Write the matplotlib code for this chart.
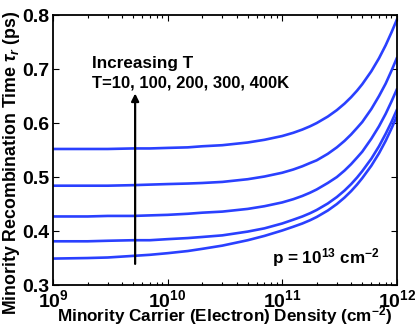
import matplotlib
matplotlib.use('Agg')
import matplotlib.pyplot as plt

plt.rcParams['font.family'] = ['Liberation Sans', 'DejaVu Sans']
plt.rcParams['font.weight'] = 'bold'
plt.rcParams['mathtext.fontset'] = 'custom'
plt.rcParams['mathtext.rm'] = 'Liberation Sans:bold'
plt.rcParams['mathtext.bf'] = 'Liberation Sans:bold'
plt.rcParams['mathtext.it'] = 'Liberation Sans:italic'

# electron density (cm^-2)
density = [1e9, 2e9, 3e9, 5e9, 7e9, 1e10, 1.5e10, 2e10, 3e10, 5e10, 7e10,
           1e11, 1.25e11, 1.5e11, 1.75e11, 2e11, 2.5e11, 3e11, 3.5e11, 4e11,
           4.5e11, 5e11, 6e11, 7e11, 8e11, 9e11, 1e12]

# recombination time (ps), one list per temperature
tau_10K = [0.552, 0.552, 0.552, 0.553, 0.553, 0.554, 0.555, 0.557, 0.559, 0.564,
           0.569, 0.576, 0.582, 0.588, 0.594, 0.600, 0.612, 0.624, 0.636, 0.648,
           0.660, 0.672, 0.696, 0.720, 0.744, 0.768, 0.791]
tau_100K = [0.484, 0.484, 0.484, 0.485, 0.486, 0.487, 0.488, 0.489, 0.491, 0.496,
            0.501, 0.508, 0.514, 0.520, 0.526, 0.531, 0.543, 0.555, 0.567, 0.579,
            0.591, 0.602, 0.626, 0.650, 0.673, 0.697, 0.720]
tau_200K = [0.427, 0.427, 0.428, 0.428, 0.429, 0.430, 0.432, 0.434, 0.436, 0.441,
            0.446, 0.453, 0.459, 0.465, 0.471, 0.477, 0.489, 0.500, 0.512, 0.524,
            0.536, 0.547, 0.571, 0.594, 0.617, 0.640, 0.662]
tau_300K = [0.381, 0.381, 0.382, 0.383, 0.383, 0.385, 0.387, 0.389, 0.392, 0.399,
            0.405, 0.414, 0.421, 0.427, 0.433, 0.439, 0.451, 0.463, 0.475, 0.487,
            0.499, 0.511, 0.534, 0.557, 0.580, 0.602, 0.624]
tau_400K = [0.349, 0.350, 0.351, 0.354, 0.356, 0.359, 0.363, 0.367, 0.373, 0.383,
            0.391, 0.401, 0.408, 0.414, 0.420, 0.426, 0.438, 0.450, 0.462, 0.474,
            0.486, 0.498, 0.521, 0.544, 0.567, 0.590, 0.612]

curves = [tau_10K, tau_100K, tau_200K, tau_300K, tau_400K]

xticks = [1e9, 1e10, 1e11, 1e12]
xticklabels = [r'$10^{9}$', r'$10^{10}$', r'$10^{11}$', r'$10^{12}$']
yticks = [0.3, 0.4, 0.5, 0.6, 0.7, 0.8]

fig = plt.figure(figsize=(4.15, 3.28), dpi=100)
ax = fig.add_axes([0.128, 0.131, 0.828, 0.823])

for tau in curves:
    ax.plot(density, tau, color='#2a40ff', lw=1.9)

ax.set_xscale('log')
ax.set_xlim(1e9, 1e12)
ax.set_ylim(0.3, 0.8)
ax.set_xticks(xticks)
ax.set_xticklabels(xticklabels)
ax.set_yticks(yticks)
ax.set_yticklabels(['%.1f' % v for v in yticks])

ax.tick_params(which='both', direction='in', top=True, right=True,
               labelsize=14, width=0.8)
ax.tick_params(which='major', length=4, pad=3)
ax.tick_params(which='minor', length=2)
for s in ax.spines.values():
    s.set_linewidth(1.3)

ax.set_xlabel(r'Minority Carrier (Electron) Density (cm$^{-2}$)', fontsize=12.3,
              fontweight='bold', labelpad=-5)
ax.set_ylabel(r'Minority Recombination Time $\tau_r$ (ps)', fontsize=12.8,
              fontweight='bold')
ax.yaxis.set_label_coords(-0.09, 0.455)

ax.annotate('', xy=(5.2e9, 0.66), xytext=(5.2e9, 0.334),
            arrowprops=dict(arrowstyle='-|>', color='black', lw=1.6,
                            mutation_scale=11))
ax.text(2.2e9, 0.711, 'Increasing T', fontsize=12.3, fontweight='bold', va='center')
ax.text(2.2e9, 0.675, 'T=10, 100, 200, 300, 400K', fontsize=12,
        fontweight='bold', va='center')
ax.text(8.2e10, 0.35, r'p = 10$^{13}$ cm$^{-2}$', fontsize=12.3,
        fontweight='bold', va='center')

fig.savefig('out.png', dpi=100)
